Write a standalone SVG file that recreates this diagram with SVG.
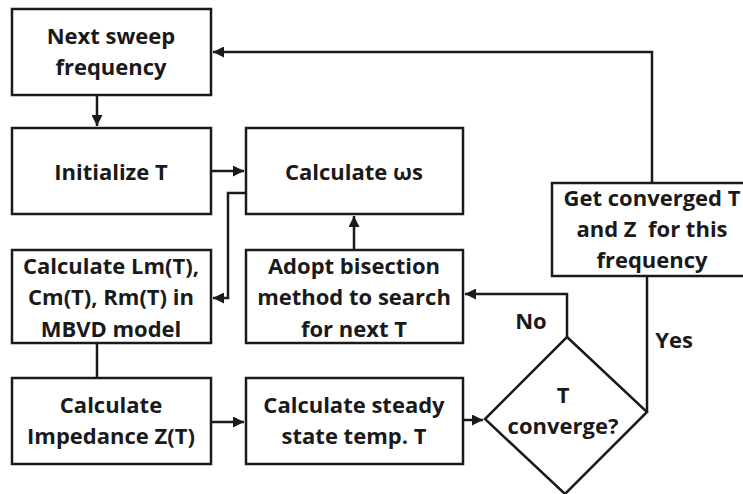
<svg xmlns="http://www.w3.org/2000/svg" width="743" height="494" viewBox="0 0 743 494">
  <style>
    .box { fill: #fff; stroke: #1a1a1a; stroke-width: 2.5; }
    .lbl { font-family: "Open Sans", "Liberation Sans", sans-serif; font-weight: bold; font-size: 22px; fill: #1a1a1a; text-anchor: middle; }
    .wire { fill: none; stroke: #1a1a1a; stroke-width: 2.5; }
  </style>
  <defs>
    <marker id="arrow" viewBox="0 0 10 10" refX="10" refY="5" markerWidth="4.4" markerHeight="4.4" markerUnits="strokeWidth" orient="auto">
      <path d="M0,0 L10,5 L0,10 z" fill="#1a1a1a"/>
    </marker>
  </defs>
  <rect width="743" height="494" fill="#fff"/>

  <g id="connectors">
    <path class="wire" d="M652,183 V52 H213" marker-end="url(#arrow)"/>
    <path class="wire" d="M97,95 V126" marker-end="url(#arrow)"/>
    <path class="wire" d="M211,171 H244" marker-end="url(#arrow)"/>
    <path class="wire" d="M246,193 H228 V298 H213" marker-end="url(#arrow)"/>
    <path class="wire" d="M97,343 V378"/>
    <path class="wire" d="M211,422 H244" marker-end="url(#arrow)"/>
    <path class="wire" d="M463,420 H483" marker-end="url(#arrow)"/>
    <path class="wire" d="M567,337 V294 H465" marker-end="url(#arrow)"/>
    <path class="wire" d="M354,250 V216" marker-end="url(#arrow)"/>
    <path class="wire" d="M647,412 V276"/>
    <text class="lbl" x="531" y="329">No</text>
    <text class="lbl" x="674" y="348">Yes</text>
  </g>

  <g id="next-sweep">
    <rect class="box" x="12" y="9" width="199" height="86"/>
    <text class="lbl" x="111" y="44">Next sweep</text>
    <text class="lbl" x="111" y="75">frequency</text>
  </g>
  <g id="init-t">
    <rect class="box" x="12" y="128" width="199" height="86"/>
    <text class="lbl" x="111" y="180">Initialize T</text>
  </g>
  <g id="calc-ws">
    <rect class="box" x="246" y="128" width="217" height="86"/>
    <text class="lbl" x="354" y="180">Calculate ωs</text>
  </g>
  <g id="calc-lcr">
    <rect class="box" x="12" y="250" width="199" height="93"/>
    <text class="lbl" x="111" y="274">Calculate Lm(T),</text>
    <text class="lbl" x="111" y="305">Cm(T), Rm(T) in</text>
    <text class="lbl" x="111" y="337">MBVD model</text>
  </g>
  <g id="bisection">
    <rect class="box" x="246" y="250" width="217" height="93"/>
    <text class="lbl" x="354" y="274">Adopt bisection</text>
    <text class="lbl" x="354" y="305">method to search</text>
    <text class="lbl" x="354" y="337">for next T</text>
  </g>
  <g id="calc-z">
    <rect class="box" x="12" y="378" width="199" height="86"/>
    <text class="lbl" x="111" y="413">Calculate</text>
    <text class="lbl" x="111" y="444">Impedance Z(T)</text>
  </g>
  <g id="steady-temp">
    <rect class="box" x="246" y="378" width="217" height="86"/>
    <text class="lbl" x="354" y="413">Calculate steady</text>
    <text class="lbl" x="354" y="444">state temp. T</text>
  </g>
  <g id="converge">
    <polygon class="box" points="567,337 647,412 565,494 485,419"/>
    <text class="lbl" x="563" y="403">T</text>
    <text class="lbl" x="563" y="434">converge?</text>
  </g>
  <g id="converged-result">
    <rect class="box" x="552" y="183" width="200" height="93"/>
    <text class="lbl" x="652" y="206">Get converged T</text>
    <text class="lbl" x="652" y="237" style="white-space: pre">and Z  for this</text>
    <text class="lbl" x="652" y="268">frequency</text>
  </g>
</svg>
